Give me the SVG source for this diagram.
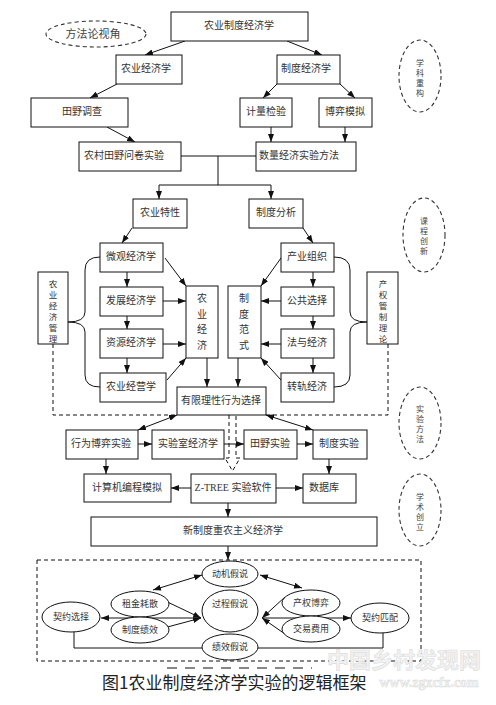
<svg xmlns="http://www.w3.org/2000/svg" width="496" height="705" viewBox="0 0 496 705">
<defs>
<marker id="arr" markerUnits="userSpaceOnUse" markerWidth="8" markerHeight="6" refX="8" refY="3" orient="auto-start-reverse">
<path d="M0,0 L8,3 L0,6 z" fill="#111"/>
</marker>
<style>
.b{fill:#fff;stroke:#111;stroke-width:1}
.t{font-family:"Noto Sans CJK SC","Noto Sans",sans-serif;font-size:10px;fill:#333;text-anchor:middle}
.v{font-family:"Noto Sans CJK SC","Noto Sans",sans-serif;font-size:8.5px;fill:#333;text-anchor:middle}
.ve{font-family:"Noto Sans CJK SC","Noto Sans",sans-serif;font-size:8px;fill:#444;text-anchor:middle}
.s{font-family:"Noto Sans CJK SC","Noto Sans",sans-serif;font-size:9px;fill:#333;text-anchor:middle}
.el{fill:#fff;stroke:#333;stroke-width:1.1;stroke-dasharray:4 3}
.e{fill:#fff;stroke:#111;stroke-width:1}
.c{fill:none;stroke:#111;stroke-width:1}
.a{fill:none;stroke:#111;stroke-width:1;marker-end:url(#arr)}
.d{fill:none;stroke:#111;stroke-width:1;marker-start:url(#arr);marker-end:url(#arr)}
.ds{fill:none;stroke:#111;stroke-width:1;stroke-dasharray:4 3}
</style>
</defs>
<rect width="496" height="705" fill="#fff"/>

<g id="connectors">
<line class="a" x1="185" y1="41" x2="145" y2="55"/>
<line class="a" x1="287" y1="41" x2="322" y2="55"/>
<line class="a" x1="117" y1="84" x2="90" y2="98"/>
<line class="a" x1="277" y1="84" x2="263" y2="98"/>
<line class="a" x1="340" y1="84" x2="355" y2="98"/>
<line class="a" x1="107" y1="127" x2="135" y2="142"/>
<line class="a" x1="271" y1="127" x2="271" y2="142"/>
<line class="a" x1="345" y1="127" x2="345" y2="142"/>
<path class="c" d="M181,156 L256,156 M218,156 L218,185 M159,185 L271,185"/>
<line class="a" x1="159" y1="185" x2="159" y2="199"/>
<line class="a" x1="271" y1="185" x2="271" y2="199"/>
<line class="a" x1="132" y1="228" x2="122" y2="243"/>
<line class="a" x1="303" y1="228" x2="313" y2="243"/>
<line class="a" x1="127" y1="272" x2="127" y2="287"/>
<line class="a" x1="127" y1="316" x2="127" y2="329"/>
<line class="a" x1="127" y1="358" x2="127" y2="373"/>
<line class="a" x1="313" y1="272" x2="313" y2="287"/>
<line class="a" x1="313" y1="316" x2="313" y2="329"/>
<line class="a" x1="313" y1="358" x2="313" y2="373"/>
<line class="a" x1="165" y1="258" x2="186" y2="286"/>
<line class="a" x1="163" y1="301" x2="186" y2="301"/>
<line class="a" x1="163" y1="344" x2="186" y2="344"/>
<line class="a" x1="167" y1="380" x2="186" y2="358"/>
<line class="a" x1="281" y1="258" x2="261" y2="286"/>
<line class="a" x1="281" y1="301" x2="261" y2="301"/>
<line class="a" x1="281" y1="344" x2="261" y2="344"/>
<line class="a" x1="281" y1="380" x2="261" y2="358"/>
<line class="a" x1="207" y1="358" x2="207" y2="387"/>
<line class="a" x1="238" y1="358" x2="238" y2="387"/>
<path class="c" d="M100,257 Q85,257 85,270 L85,312 Q85,322 68,322 Q85,322 85,332 L85,375 Q85,387 100,387"/>
<path class="c" d="M334,257 Q350,257 350,270 L350,312 Q350,322 367,322 Q350,322 350,332 L350,375 Q350,387 334,387"/>
<path class="ds" d="M53,344 L53,415 L177,415"/>
<path class="ds" d="M388,344 L388,415 L266,415"/>
<line class="d" x1="177" y1="415" x2="138" y2="430"/>
<line class="d" x1="266" y1="415" x2="313" y2="430"/>
<path class="ds" d="M229,415 L229,458 L225,458 L232.5,471 L240,458 L236,458 L236,415"/>
<line class="a" x1="138" y1="444" x2="152" y2="444"/>
<line class="a" x1="224" y1="444" x2="244" y2="444"/>
<line class="a" x1="297" y1="444" x2="313" y2="444"/>
<line class="a" x1="106" y1="459" x2="106" y2="474"/>
<line class="a" x1="329" y1="459" x2="329" y2="474"/>
<line class="a" x1="191" y1="488" x2="171" y2="488"/>
<line class="a" x1="276" y1="488" x2="303" y2="488"/>
<line class="a" x1="228" y1="503" x2="228" y2="517"/>
<line class="a" x1="228" y1="546" x2="228" y2="560"/>
<line class="d" x1="153" y1="590" x2="202" y2="575"/>
<line class="d" x1="260" y1="575" x2="302" y2="588"/>
<line class="a" x1="157" y1="597" x2="201" y2="618"/>
<line class="a" x1="160" y1="629" x2="201" y2="618"/>
<line class="a" x1="200" y1="618" x2="101" y2="618"/>
<line class="a" x1="285" y1="597" x2="262" y2="618"/>
<line class="a" x1="285" y1="634" x2="262" y2="618"/>
<line class="a" x1="263" y1="618" x2="351" y2="618"/>
<path class="c" d="M74,632 L74,648 L202,648 M258,648 L383,648 L383,633"/>
</g>

<g id="n-top"><rect class="b" x="171" y="12" width="137" height="29"/><text class="t" x="239" y="29">农业制度经济学</text></g>
<g id="n-fangfalun"><ellipse class="el" cx="96" cy="34" rx="50" ry="13"/><text class="t" x="93" y="38" style="font-size:11px;fill:#444">方法论视角</text></g>
<g id="n-nyjjx"><rect class="b" x="116" y="55" width="66" height="29"/><text class="t" x="146" y="72">农业经济学</text></g>
<g id="n-zdjjx"><rect class="b" x="277" y="55" width="63" height="29"/><text class="t" x="306" y="72">制度经济学</text></g>
<g id="n-xkcg"><ellipse class="el" cx="420" cy="76" rx="21" ry="36"/><text class="ve" x="420"><tspan x="420" y="66">学</tspan><tspan x="420" y="76">科</tspan><tspan x="420" y="86">重</tspan><tspan x="420" y="96">构</tspan></text></g>
<g id="n-tydc"><rect class="b" x="31" y="98" width="97" height="29"/><text class="t" x="82" y="115">田野调查</text></g>
<g id="n-jljy"><rect class="b" x="240" y="98" width="52" height="29"/><text class="t" x="266" y="115">计量检验</text></g>
<g id="n-byml"><rect class="b" x="319" y="98" width="53" height="29"/><text class="t" x="345" y="115">博弈模拟</text></g>
<g id="n-ncty"><rect class="b" x="79" y="142" width="102" height="29"/><text class="t" x="124" y="159">农村田野问卷实验</text></g>
<g id="n-sljj"><rect class="b" x="256" y="142" width="100" height="29"/><text class="t" x="299" y="159">数量经济实验方法</text></g>
<g id="n-nytx"><rect class="b" x="133" y="199" width="54" height="29"/><text class="t" x="160" y="216">农业特性</text></g>
<g id="n-zdfx"><rect class="b" x="249" y="199" width="54" height="29"/><text class="t" x="276" y="216">制度分析</text></g>
<g id="n-kccx"><ellipse class="el" cx="424" cy="235" rx="21" ry="37"/><text class="ve" x="424"><tspan x="424" y="224">课</tspan><tspan x="424" y="234">程</tspan><tspan x="424" y="244">创</tspan><tspan x="424" y="254">新</tspan></text></g>
<g id="n-wgjjx"><rect class="b" x="100" y="243" width="63" height="29"/><text class="t" x="131" y="260">微观经济学</text></g>
<g id="n-fzjjx"><rect class="b" x="100" y="287" width="63" height="29"/><text class="t" x="131" y="304">发展经济学</text></g>
<g id="n-zyjjx"><rect class="b" x="100" y="329" width="63" height="29"/><text class="t" x="131" y="346">资源经济学</text></g>
<g id="n-nyjyx"><rect class="b" x="100" y="373" width="66" height="29"/><text class="t" x="131" y="390">农业经营学</text></g>
<g id="n-cyzz"><rect class="b" x="281" y="243" width="53" height="29"/><text class="t" x="307" y="260">产业组织</text></g>
<g id="n-ggxz"><rect class="b" x="281" y="287" width="53" height="29"/><text class="t" x="307" y="304">公共选择</text></g>
<g id="n-fyjj"><rect class="b" x="281" y="329" width="53" height="29"/><text class="t" x="307" y="346">法与经济</text></g>
<g id="n-zgjj"><rect class="b" x="281" y="373" width="53" height="29"/><text class="t" x="307" y="390">转轨经济</text></g>
<g id="n-nyjjgl"><rect class="b" x="38" y="272" width="30" height="72"/><text class="v" x="53"><tspan x="53" y="287">农</tspan><tspan x="53" y="298">业</tspan><tspan x="53" y="309">经</tspan><tspan x="53" y="320">济</tspan><tspan x="53" y="331">管</tspan><tspan x="53" y="342">理</tspan></text></g>
<g id="n-cqgz"><rect class="b" x="367" y="272" width="31" height="72"/><text class="v" x="383"><tspan x="383" y="287">产</tspan><tspan x="383" y="298">权</tspan><tspan x="383" y="309">管</tspan><tspan x="383" y="320">制</tspan><tspan x="383" y="331">理</tspan><tspan x="383" y="342">论</tspan></text></g>
<g id="n-nyjj"><rect class="b" x="186" y="286" width="32" height="72"/><text class="t" x="202"><tspan x="202" y="302">农</tspan><tspan x="202" y="318">业</tspan><tspan x="202" y="333">经</tspan><tspan x="202" y="349">济</tspan></text></g>
<g id="n-zdfs"><rect class="b" x="228" y="286" width="33" height="72"/><text class="t" x="244"><tspan x="244" y="302">制</tspan><tspan x="244" y="318">度</tspan><tspan x="244" y="333">范</tspan><tspan x="244" y="349">式</tspan></text></g>
<g id="n-yxlx"><rect class="b" x="177" y="387" width="89" height="28"/><text class="t" x="221" y="404">有限理性行为选择</text></g>
<g id="n-syff"><ellipse class="el" cx="420" cy="423" rx="21" ry="36"/><text class="ve" x="420"><tspan x="420" y="412">实</tspan><tspan x="420" y="422">验</tspan><tspan x="420" y="432">方</tspan><tspan x="420" y="442">法</tspan></text></g>
<g id="n-xwby"><rect class="b" x="66" y="430" width="72" height="29"/><text class="t" x="101" y="447">行为博弈实验</text></g>
<g id="n-sysjjx"><rect class="b" x="152" y="430" width="72" height="29"/><text class="t" x="188" y="447">实验室经济学</text></g>
<g id="n-tysy"><rect class="b" x="244" y="430" width="53" height="29"/><text class="t" x="270" y="447">田野实验</text></g>
<g id="n-zdsy"><rect class="b" x="313" y="430" width="54" height="29"/><text class="t" x="339" y="447">制度实验</text></g>
<g id="n-jsj"><rect class="b" x="84" y="474" width="87" height="28"/><text class="t" x="127" y="491">计算机编程模拟</text></g>
<g id="n-ztree"><rect class="b" x="191" y="474" width="85" height="29"/><text class="t" x="233" y="491"><tspan style="font-family:'Liberation Serif',serif">Z-TREE </tspan>实验软件</text></g>
<g id="n-sjk"><rect class="b" x="303" y="474" width="53" height="29"/><text class="t" x="324" y="491">数据库</text></g>
<g id="n-xscl"><ellipse class="el" cx="420" cy="510" rx="21" ry="36"/><text class="ve" x="420"><tspan x="420" y="500">学</tspan><tspan x="420" y="510">术</tspan><tspan x="420" y="520">创</tspan><tspan x="420" y="530">立</tspan></text></g>
<g id="n-xzd"><rect class="b" x="91" y="517" width="286" height="29"/><text class="t" x="233" y="534">新制度重农主义经济学</text></g>

<g id="n-frame"><rect x="37" y="560" width="384" height="101" fill="none" stroke="#111" stroke-width="1" stroke-dasharray="4 3"/></g>
<g id="n-dongji"><ellipse class="e" cx="230" cy="574" rx="28" ry="13"/><text class="s" x="230" y="577">动机假说</text></g>
<g id="n-guocheng"><ellipse class="e" cx="230" cy="611" rx="28" ry="21"/><text class="s" x="230" y="607">过程假说</text></g>
<g id="n-jixiao"><ellipse class="e" cx="230" cy="647" rx="28" ry="13"/><text class="s" x="230" y="650">绩效假说</text></g>
<g id="n-zujin"><ellipse class="e" cx="140" cy="604" rx="29" ry="13"/><text class="s" x="140" y="607">租金耗散</text></g>
<g id="n-zdjx"><ellipse class="e" cx="140" cy="630" rx="29" ry="13"/><text class="s" x="140" y="633">制度绩效</text></g>
<g id="n-qyxz"><ellipse class="e" cx="71" cy="617" rx="29" ry="15"/><text class="s" x="71" y="620">契约选择</text></g>
<g id="n-cqby"><ellipse class="e" cx="311" cy="603" rx="29" ry="13"/><text class="s" x="311" y="606">产权博弈</text></g>
<g id="n-jyfy"><ellipse class="e" cx="311" cy="629" rx="29" ry="13"/><text class="s" x="311" y="632">交易费用</text></g>
<g id="n-qypp"><ellipse class="e" cx="380" cy="618" rx="29" ry="15"/><text class="s" x="380" y="621">契约匹配</text></g>

<line x1="167" y1="668" x2="312" y2="668" stroke="#888" stroke-width="2" stroke-dasharray="10 8"/>
<text x="102" y="689" style="font-family:'Noto Sans CJK SC',sans-serif;font-size:17px;fill:#222">图1农业制度经济学实验的逻辑框架</text>
<text x="404" y="668" text-anchor="middle" style="font-family:'Noto Sans CJK SC',sans-serif;font-size:22px;font-weight:bold;fill:#f2f2f2;stroke:#dcdcdc;stroke-width:0.6">中国乡村发现网</text>
<text x="429" y="687" text-anchor="middle" style="font-family:'Liberation Serif',serif;font-size:14px;font-weight:bold;fill:#f2f2f2;stroke:#dcdcdc;stroke-width:0.5">www.zgxcfx.com</text>
</svg>
